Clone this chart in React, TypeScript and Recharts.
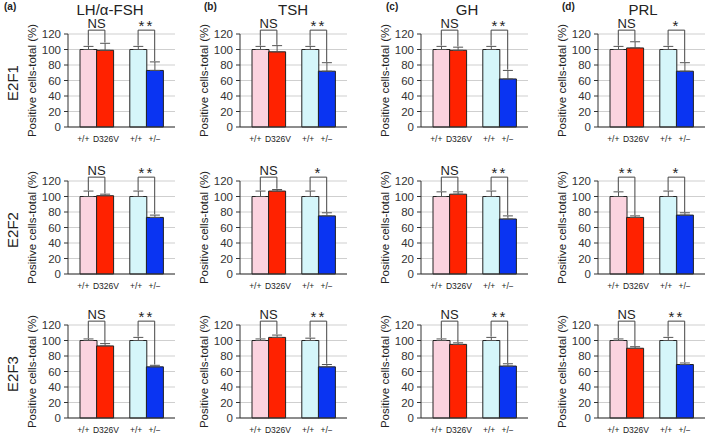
import React from "react";
import {
  BarChart,
  Bar,
  XAxis,
  YAxis,
  CartesianGrid,
  ErrorBar,
  Cell,
  ReferenceLine,
} from "recharts";

const panelTags = ["(a)", "(b)", "(c)", "(d)"];
const hormones = ["LH/α-FSH", "TSH", "GH", "PRL"];
const factors = ["E2F1", "E2F2", "E2F3"];
const slotKeys = ["wt1", "mut", "gap", "wt2", "het"];
const genotypeLabels = ["+/+", "D326V", "", "+/+", "+/−"];
const yTicks = [0, 20, 40, 60, 80, 100, 120];

// % positive cells per hormone, bars: [+/+, D326V, +/+, +/−]
const e2f1Means = [[100, 99, 100, 73], [100, 97, 100, 72], [100, 99, 100, 62], [100, 102, 100, 72]];
const e2f1Errors = [[4, 9, 4, 11], [4, 8, 4, 11], [4, 4, 4, 11], [4, 8, 4, 11]];
const e2f1Signif = [["NS", "**"], ["NS", "**"], ["NS", "**"], ["NS", "*"]];

const e2f2Means = [[100, 101, 100, 73], [100, 107, 100, 75], [100, 103, 100, 71], [100, 73, 100, 76]];
const e2f2Errors = [[7, 2, 7, 3], [7, 2, 7, 4], [6, 3, 7, 4], [6, 2, 7, 3]];
const e2f2Signif = [["NS", "**"], ["NS", "*"], ["NS", "**"], ["**", "*"]];

const e2f3Means = [[100, 93, 100, 66], [100, 104, 100, 66], [100, 95, 100, 67], [100, 90, 100, 69]];
const e2f3Errors = [[2, 3, 4, 2], [2, 3, 3, 3], [2, 2, 4, 3], [2, 2, 4, 2]];
const e2f3Signif = [["NS", "**"], ["NS", "**"], ["NS", "**"], ["NS", "**"]];

const rowMeans = [e2f1Means, e2f2Means, e2f3Means];
const rowErrors = [e2f1Errors, e2f2Errors, e2f3Errors];
const rowSignif = [e2f1Signif, e2f2Signif, e2f3Signif];

const barColors = ["#fbd3df", "#ff2200", "#ffffff", "#d5f6fa", "#0a34f2"];

// layout
const colAxisX = [68, 240, 421, 598];
const colTitleX = [110, 293, 467, 643];
const colTagX = [4, 204, 386, 562];
const rowTop = [34, 181, 325];
const PLOT_W = 107;
const PLOT_H = 93;
const Y_W = 46;
const TOP = 30;
const X_H = 22;
const BRACKET = 125;
const tickShift = [-5, 1, 0, -2, 0];

document.body.style.margin = "0";

function buildData(means: number[], errs: number[]) {
  let k = 0;
  return slotKeys.map((slot) => {
    if (slot === "gap") return { slot, value: null, err: undefined };
    const row = { slot, value: means[k], err: [0, errs[k]] };
    k++;
    return row;
  });
}

function GenotypeTick(props: any) {
  const { x, y, payload } = props;
  const i = slotKeys.indexOf(payload.value);
  return (
    <text
      x={x + tickShift[i]}
      y={y}
      dy="0.71em"
      textAnchor="middle"
      fontSize={8.5}
      fill="#222"
    >
      {genotypeLabels[i]}
    </text>
  );
}

function Panel({ row, col }: { row: number; col: number }) {
  const means = rowMeans[row][col];
  const errs = rowErrors[row][col];
  const signif = rowSignif[row][col];
  const data = buildData(means, errs);
  const pairs = [
    [0, 1],
    [3, 4],
  ];

  return (
    <div
      style={{
        position: "absolute",
        left: colAxisX[col] - Y_W,
        top: rowTop[row] - TOP,
      }}
    >
      <BarChart
        width={Y_W + PLOT_W}
        height={TOP + PLOT_H + X_H}
        data={data}
        margin={{ top: TOP, right: 0, bottom: 0, left: 0 }}
        barCategoryGap={0}
      >
        <CartesianGrid vertical={false} stroke="#cfcfcf" />
        <XAxis
          dataKey="slot"
          interval={0}
          tickLine={false}
          tickSize={0}
          tickMargin={9}
          height={X_H}
          padding={{ left: 12, right: 12 }}
          axisLine={{ stroke: "#333" }}
          tick={(p: any) => <GenotypeTick {...p} />}
        />
        <YAxis
          width={Y_W}
          domain={[0, 120]}
          ticks={yTicks}
          interval={0}
          tickSize={4}
          tickMargin={3}
          axisLine={{ stroke: "#333" }}
          tickLine={{ stroke: "#333" }}
          tick={{ fontSize: 11.5, fill: "#333" }}
          label={{
            value: "Positive cells-total (%)",
            angle: -90,
            position: "insideLeft",
            offset: 10,
            fontSize: 11.5,
            fill: "#222",
            style: { textAnchor: "middle" },
          }}
        />
        <Bar dataKey="value" stroke="#222" strokeWidth={1} isAnimationActive={false}>
          {data.map((d, i) => (
            <Cell key={d.slot} fill={barColors[i]} />
          ))}
          <ErrorBar
            dataKey="err"
            width={5}
            strokeWidth={1}
            stroke="#555"
            direction="y"
            isAnimationActive={false}
          />
        </Bar>
        {pairs.flatMap(([a, b], p) => {
          const topA = (data[a].value as number) + errs[a > 2 ? a - 1 : a] + 1;
          const topB = (data[b].value as number) + errs[b > 2 ? b - 1 : b] + 1;
          return [
            <ReferenceLine
              key={`l${p}`}
              ifOverflow="visible"
              stroke="#444"
              segment={[
                { x: slotKeys[a], y: topA },
                { x: slotKeys[a], y: BRACKET },
              ]}
            />,
            <ReferenceLine
              key={`h${p}`}
              ifOverflow="visible"
              stroke="#444"
              segment={[
                { x: slotKeys[a], y: BRACKET },
                { x: slotKeys[b], y: BRACKET },
              ]}
              label={{
                value: signif[p],
                position: "top",
                offset: signif[p] === "NS" ? 2 : -1,
                fontSize: signif[p] === "NS" ? 13 : 15,
                fill: "#222",
                letterSpacing: signif[p] === "NS" ? 0 : 2,
              }}
            />,
            <ReferenceLine
              key={`r${p}`}
              ifOverflow="visible"
              stroke="#444"
              segment={[
                { x: slotKeys[b], y: topB },
                { x: slotKeys[b], y: BRACKET },
              ]}
            />,
          ];
        })}
      </BarChart>
    </div>
  );
}

export default function App() {
  return (
    <div
      style={{
        position: "relative",
        width: 707,
        height: 434,
        background: "#fff",
        fontFamily: "'Liberation Sans', Arial, sans-serif",
        color: "#222",
        overflow: "hidden",
      }}
    >
      {panelTags.map((tag, c) => (
        <div
          key={tag}
          style={{ position: "absolute", left: colTagX[c], top: 1, fontSize: 10, fontWeight: "bold" }}
        >
          {tag}
        </div>
      ))}
      {hormones.map((h, c) => (
        <div
          key={h}
          style={{
            position: "absolute",
            left: colTitleX[c],
            top: 9,
            transform: "translate(-50%, -50%)",
            fontSize: 15,
            whiteSpace: "nowrap",
          }}
        >
          {h}
        </div>
      ))}
      {factors.map((f, r) => (
        <div
          key={f}
          style={{
            position: "absolute",
            left: 12,
            top: rowTop[r] + PLOT_H / 2 + 2,
            transform: "translate(-50%, -50%) rotate(-90deg)",
            fontSize: 15,
            whiteSpace: "nowrap",
          }}
        >
          {f}
        </div>
      ))}
      {factors.map((f, r) =>
        hormones.map((h, c) => <Panel key={`${f}-${h}`} row={r} col={c} />)
      )}
    </div>
  );
}
